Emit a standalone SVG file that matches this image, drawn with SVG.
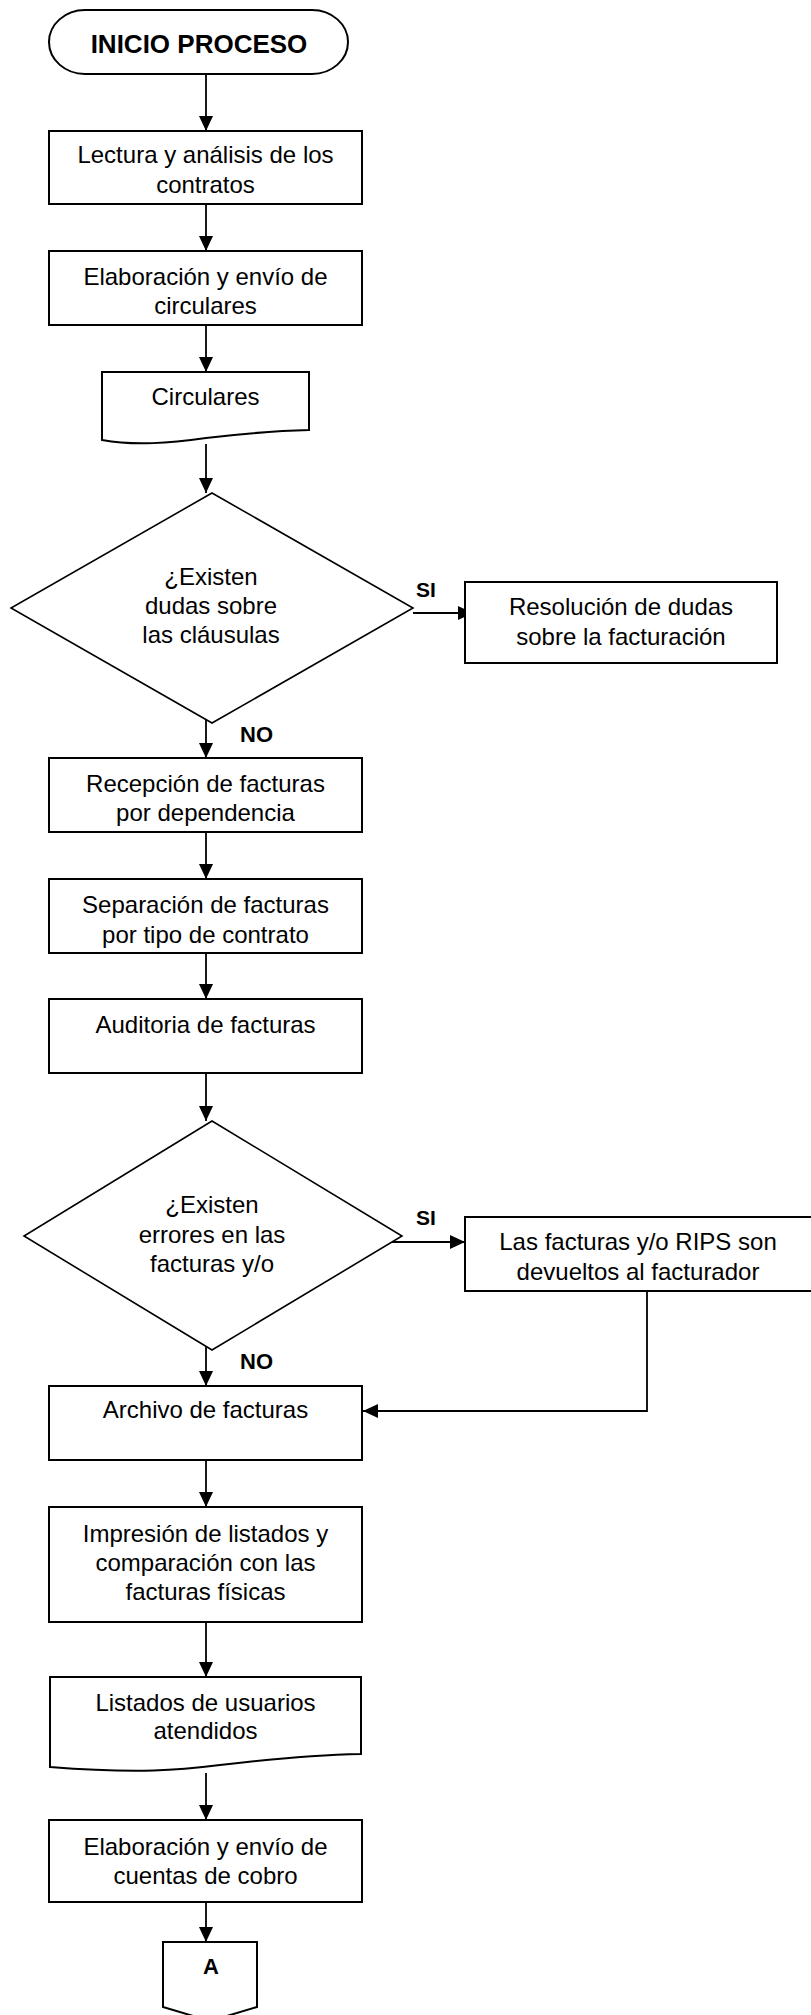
<svg xmlns="http://www.w3.org/2000/svg" width="811" height="2015" viewBox="0 0 811 2015">
<style>
.n{fill:#fff;stroke:#000;stroke-width:2}
.d{fill:#fff;stroke:#000;stroke-width:1.6}
.t{font-family:"Liberation Sans",Arial,sans-serif;font-size:24px;fill:#000;text-anchor:middle}
.b{font-family:"Liberation Sans",Arial,sans-serif;font-weight:bold;fill:#000}
.c{fill:none;stroke:#000;stroke-width:1.8}
</style>
<defs>
<marker id="ah" markerUnits="userSpaceOnUse" markerWidth="16" markerHeight="15" refX="15" refY="7" orient="auto">
<path d="M0,0 L15,7 L0,14 Z" fill="#000"/>
</marker>
</defs>
<rect width="811" height="2015" fill="#fff"/>
<g id="connectors">
<line class="c" x1="206" y1="74" x2="206" y2="131" marker-end="url(#ah)"/>
<line class="c" x1="206" y1="204" x2="206" y2="251" marker-end="url(#ah)"/>
<line class="c" x1="206" y1="325" x2="206" y2="372" marker-end="url(#ah)"/>
<line class="c" x1="206" y1="444" x2="206" y2="493" marker-end="url(#ah)"/>
<line class="c" x1="413" y1="613" x2="473" y2="613" marker-end="url(#ah)"/>
<line class="c" x1="206" y1="711" x2="206" y2="758" marker-end="url(#ah)"/>
<line class="c" x1="206" y1="832" x2="206" y2="879" marker-end="url(#ah)"/>
<line class="c" x1="206" y1="953" x2="206" y2="999" marker-end="url(#ah)"/>
<line class="c" x1="206" y1="1073" x2="206" y2="1121" marker-end="url(#ah)"/>
<line class="c" x1="392" y1="1242" x2="465" y2="1242" marker-end="url(#ah)"/>
<line class="c" x1="206" y1="1338" x2="206" y2="1386" marker-end="url(#ah)"/>
<polyline class="c" points="647,1291 647,1411 363,1411" marker-end="url(#ah)"/>
<line class="c" x1="206" y1="1460" x2="206" y2="1507" marker-end="url(#ah)"/>
<line class="c" x1="206" y1="1622" x2="206" y2="1677" marker-end="url(#ah)"/>
<line class="c" x1="206" y1="1773" x2="206" y2="1820" marker-end="url(#ah)"/>
<line class="c" x1="206" y1="1893" x2="206" y2="1942" marker-end="url(#ah)"/>
<text class="b" x="416" y="597" font-size="21">SI</text>
<text class="b" x="240" y="742" font-size="22">NO</text>
<text class="b" x="416" y="1225" font-size="21">SI</text>
<text class="b" x="240" y="1369" font-size="22">NO</text>
</g>
<g id="inicio">
<path class="n" d="M85,10 H312 A36,32 0 0 1 312,74 H85 A36,32 0 0 1 85,10 Z"/>
<text class="b" x="199" y="53" font-size="26" text-anchor="middle">INICIO PROCESO</text>
</g>
<g id="lectura">
<rect class="n" x="49" y="131" width="313" height="73"/>
<text class="t" x="205.5" y="163">Lectura y análisis de los</text>
<text class="t" x="205.5" y="193">contratos</text>
</g>
<g id="elaboracion-circulares">
<rect class="n" x="49" y="251" width="313" height="74"/>
<text class="t" x="205.5" y="285">Elaboración y envío de</text>
<text class="t" x="205.5" y="314">circulares</text>
</g>
<g id="circulares">
<path class="n" d="M102,372 H309 V430 C270,431 240,434 206,438 C170,443 135,446 102,440 Z"/>
<text class="t" x="205.5" y="405">Circulares</text>
</g>
<g id="decision-dudas">
<polygon class="d" points="212,493 413,608 212,723 11,608"/>
<text class="t" x="211" y="585">¿Existen</text>
<text class="t" x="211" y="614">dudas sobre</text>
<text class="t" x="211" y="643">las cláusulas</text>
</g>
<g id="resolucion">
<rect class="n" x="465" y="582" width="312" height="81"/>
<text class="t" x="621" y="615">Resolución de dudas</text>
<text class="t" x="621" y="645">sobre la facturación</text>
</g>
<g id="recepcion">
<rect class="n" x="49" y="758" width="313" height="74"/>
<text class="t" x="205.5" y="792">Recepción de facturas</text>
<text class="t" x="205.5" y="821">por dependencia</text>
</g>
<g id="separacion">
<rect class="n" x="49" y="879" width="313" height="74"/>
<text class="t" x="205.5" y="913">Separación de facturas</text>
<text class="t" x="205.5" y="943">por tipo de contrato</text>
</g>
<g id="auditoria">
<rect class="n" x="49" y="999" width="313" height="74"/>
<text class="t" x="205.5" y="1033">Auditoria de facturas</text>
</g>
<g id="decision-errores">
<polygon class="d" points="212,1121 402,1236 212,1350 24,1236"/>
<text class="t" x="212" y="1213">¿Existen</text>
<text class="t" x="212" y="1243">errores en las</text>
<text class="t" x="212" y="1272">facturas y/o</text>
</g>
<g id="devueltos">
<rect class="n" x="465" y="1217" width="360" height="74"/>
<text class="t" x="638" y="1250">Las facturas y/o RIPS son</text>
<text class="t" x="638" y="1280">devueltos al facturador</text>
</g>
<g id="archivo">
<rect class="n" x="49" y="1386" width="313" height="74"/>
<text class="t" x="205.5" y="1418">Archivo de facturas</text>
</g>
<g id="impresion">
<rect class="n" x="49" y="1507" width="313" height="115"/>
<text class="t" x="205.5" y="1542">Impresión de listados y</text>
<text class="t" x="205.5" y="1571">comparación con las</text>
<text class="t" x="205.5" y="1600">facturas físicas</text>
</g>
<g id="listados">
<path class="n" d="M50,1677 H361 V1754 C310,1755 270,1759 220,1765 C180,1770 140,1774 50,1767 Z"/>
<text class="t" x="205.5" y="1711">Listados de usuarios</text>
<text class="t" x="205.5" y="1739">atendidos</text>
</g>
<g id="cuentas-cobro">
<rect class="n" x="49" y="1820" width="313" height="82"/>
<text class="t" x="205.5" y="1855">Elaboración y envío de</text>
<text class="t" x="205.5" y="1884">cuentas de cobro</text>
</g>
<g id="conector-a">
<path class="n" d="M163,1942 H257 V2007 L210,2021 L163,2007 Z"/>
<text class="b" x="211" y="1974" font-size="22" text-anchor="middle">A</text>
</g>
</svg>
